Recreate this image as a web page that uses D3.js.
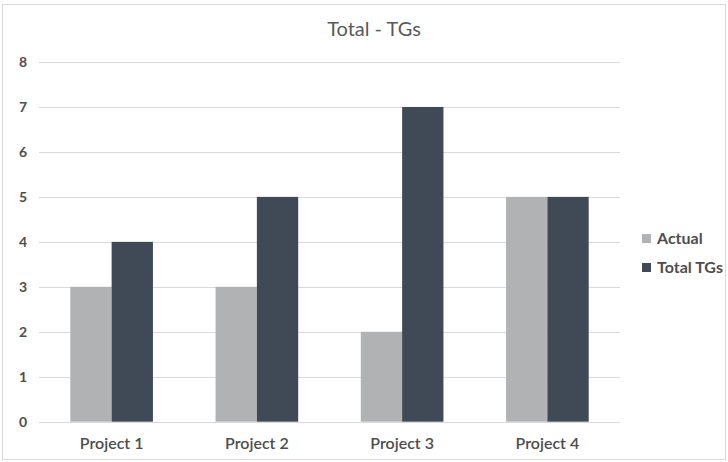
<!DOCTYPE html>
<html><head><meta charset="utf-8">
<script src="https://cdn.jsdelivr.net/npm/d3@7"></script>
<style>body{margin:0;background:#fff;} text{font-family:Lato,"Open Sans",sans-serif;}</style>
</head><body>
<svg id="c" width="728" height="462"></svg>
<script>
const categories = ["Project 1","Project 2","Project 3","Project 4"];
const seriesNames = ["Actual","Total TGs"];
const actual = [3,3,2,5];
const totalTGs = [4,5,7,5];
const yTicks = [0,1,2,3,4,5,6,7,8];
const colors = ["#b1b2b4","#404a56"];
const title = "Total - TGs";

(function(){
const svg = d3.select("#c");
svg.append("rect").attr("x",2.5).attr("y",4.5).attr("width",723).attr("height",455)
  .attr("fill","#fff").attr("stroke","#d9d9d9");

const pLeft=39, pRight=620, pTop=62, pBottom=421.7;
const x = d3.scaleBand().domain(categories).range([pLeft,pRight]).paddingInner(0.431).paddingOuter(0.2155);
const xs = d3.scaleBand().domain(seriesNames).range([0,x.bandwidth()]);
const y = d3.scaleLinear().domain([0,8]).range([pBottom,pTop]);

// gridlines
svg.append("g").selectAll("line").data(yTicks).join("line")
  .attr("x1",pLeft).attr("x2",pRight)
  .attr("y1",d=>Math.round(y(d))+0.5).attr("y2",d=>Math.round(y(d))+0.5)
  .attr("stroke","#d9d9d9").attr("stroke-width",1);

// y axis labels
const yAxis = d3.axisLeft(y).tickValues(yTicks).tickSize(0).tickPadding(0).tickFormat(d3.format("d"));
const ga = svg.append("g").attr("transform",`translate(27,0)`).call(yAxis);
ga.select(".domain").remove();
ga.selectAll("text").attr("font-family","Lato, 'Open Sans', sans-serif").attr("font-size",14)
  .attr("font-weight",700).attr("fill","#4d4d4d");

// bars
const data = categories.map((c,i)=>({c, vals:[actual[i],totalTGs[i]]}));
const g = svg.append("g");
data.forEach(d=>{
  d.vals.forEach((v,j)=>{
    g.append("rect")
      .attr("x",x(d.c)+xs(seriesNames[j]))
      .attr("width",xs.bandwidth())
      .attr("y",y(v))
      .attr("height",y(0)-y(v))
      .attr("fill",colors[j]);
  });
});

// x axis labels
const xAxis = d3.axisBottom(x).tickSize(0).tickPadding(0);
const gx = svg.append("g").attr("transform",`translate(0,${pBottom+16})`).call(xAxis);
gx.select(".domain").remove();
gx.selectAll("text").attr("font-family","Lato, 'Open Sans', sans-serif").attr("font-size",16)
  .attr("font-weight",600).attr("fill","#4d4d4d");

// title
svg.append("text").attr("x",374).attr("y",36).attr("text-anchor","middle")
  .attr("font-size",20).attr("fill","#595959").text(title);

// legend
const lg = svg.append("g");
seriesNames.forEach((s,i)=>{
  const yy = 234 + i*29;
  lg.append("rect").attr("x",642).attr("y",yy).attr("width",9).attr("height",9).attr("fill",colors[i]);
  lg.append("text").attr("x",657).attr("y",yy+10).attr("font-size",16).attr("font-weight",700)
    .attr("fill","#4d4d4d").text(s);
});
})();
</script>
</body></html>
